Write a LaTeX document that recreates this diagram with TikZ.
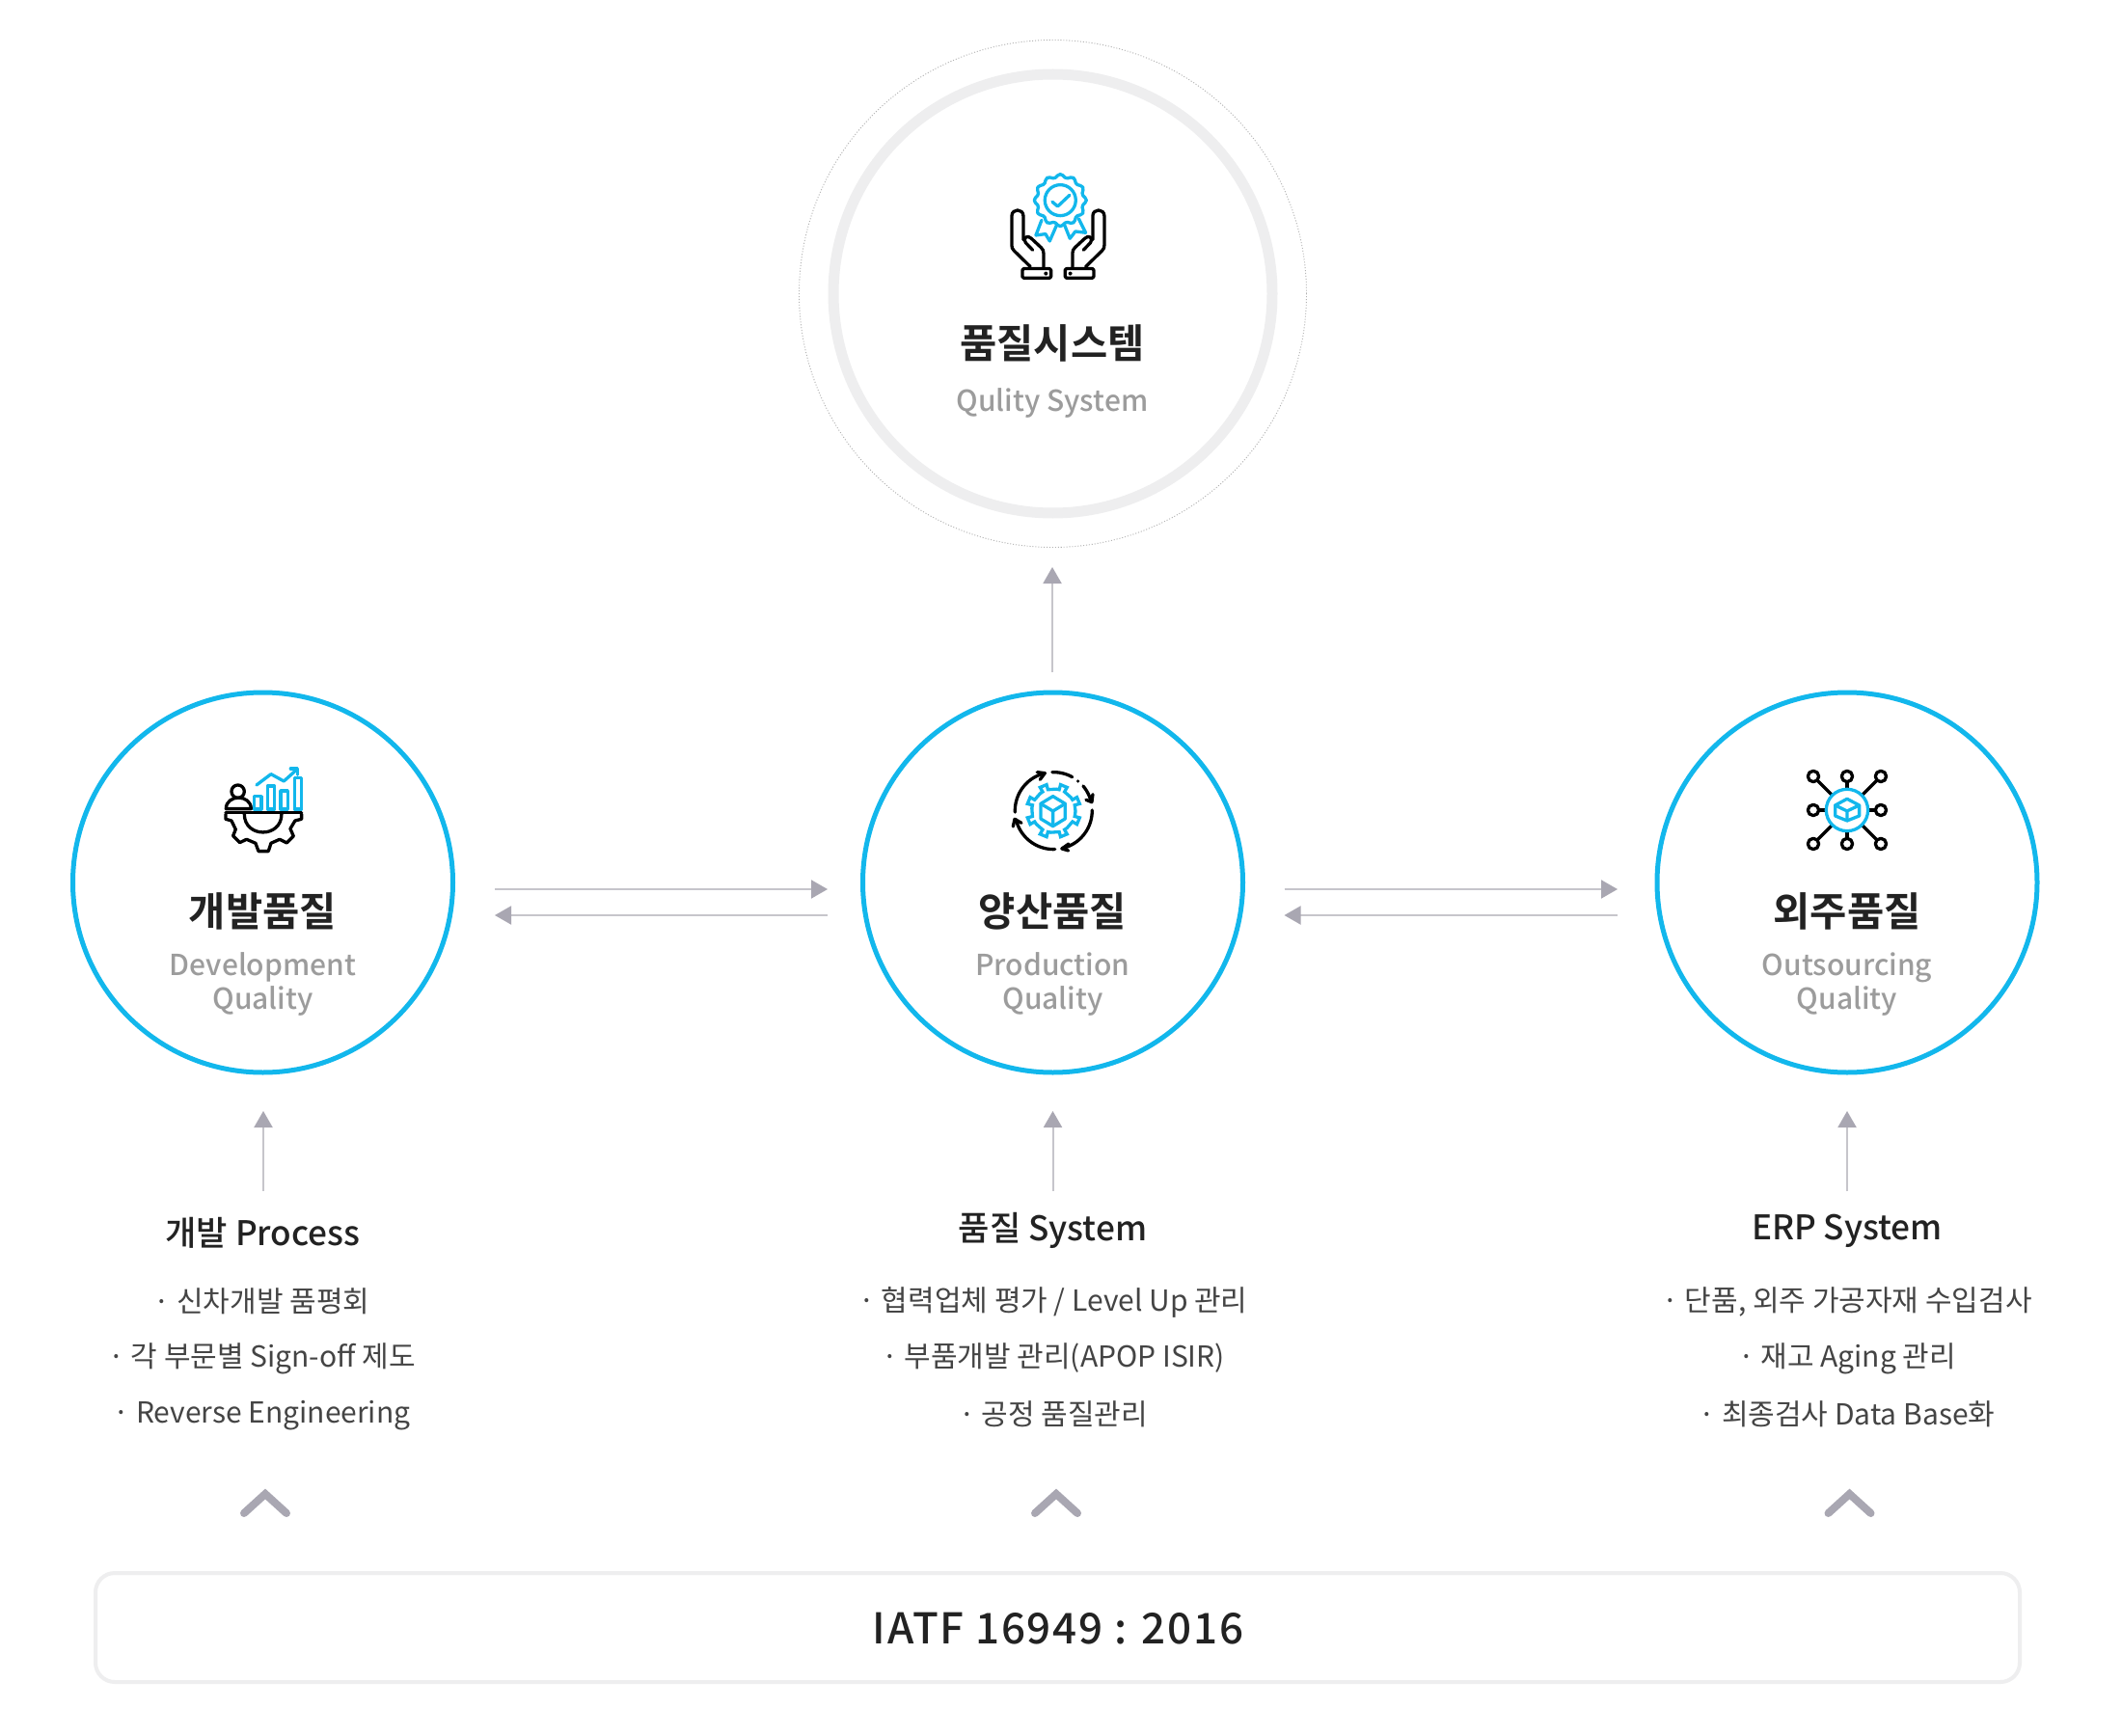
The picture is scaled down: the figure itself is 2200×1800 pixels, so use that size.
\documentclass[tikz,border=0pt]{standalone}
\usepackage{fontspec}
\usetikzlibrary{arrows.meta}
\setmainfont{Noto Sans CJK KR}
\newfontfamily\krbold{Noto Sans CJK KR Bold}
\newfontfamily\krmed{Noto Sans CJK KR Medium}
\newfontfamily\krspaced[LetterSpace=4]{Noto Sans CJK KR Medium}
\definecolor{sky}{HTML}{12B7EC}
\definecolor{ringg}{HTML}{EEEEEF}
\definecolor{linkg}{HTML}{C6C5CB}
\definecolor{headg}{HTML}{A9A7B2}
\definecolor{subg}{HTML}{9C9C9C}
\definecolor{titlek}{HTML}{222222}
\definecolor{listk}{HTML}{444444}
\tikzset{
  bigcirc/.style={circle,draw=sky,line width=5*0.03cm,minimum size=394*0.03cm,inner sep=0pt},
  ttl/.style={text=titlek,font=\krbold\fontsize{35.5pt}{40pt}\selectfont,inner sep=0pt},
  sbt/.style={text=subg,font=\krmed\fontsize{25.6pt}{29.6pt}\selectfont,align=center,inner sep=0pt},
  head/.style={text=titlek,font=\krmed\fontsize{30pt}{34pt}\selectfont,inner sep=0pt},
  lst/.style={text=listk,font=\fontsize{25.6pt}{30pt}\selectfont,inner sep=0pt},
  conn/.style={draw=linkg,line width=2*0.03cm,-{Triangle[length=17*0.03cm,width=19*0.03cm,color=headg]}},
  chev/.style={draw=headg,line width=8*0.03cm,line cap=round,line join=miter},
  ikk/.style={draw=black,line width=3.3*0.03cm,line cap=round,line join=round},
  ikb/.style={draw=sky,line width=3.3*0.03cm,line cap=round,line join=round},
  zoomed/.style={x=0.01cm,y=-0.01cm}
}
\begin{document}
\begin{tikzpicture}[x=0.03cm,y=-0.03cm]
\useasboundingbox[fill=white] (0,0) rectangle (2200,1800);
% top circle
\node[circle,draw=black!30,dash pattern=on 0.9pt off 1.6pt,line width=0.9*0.03cm,minimum size=526*0.03cm,inner sep=0pt] (outer) at (1091.5,304.5) {};
\node[circle,draw=ringg,line width=11*0.03cm,minimum size=455*0.03cm,inner sep=0pt] (ring) at (1091.5,304.5) {};
\node[ttl] (t0) at (1091,356) {품질시스템};
\node[sbt] (s0) at (1091,418) {Qulity System};
% three circles
\node[bigcirc] (c1) at (272.5,915) {};
\node[bigcirc] (c2) at (1091.5,915) {};
\node[bigcirc] (c3) at (1915,915) {};
\node[ttl] (t1) at (272.5,945) {개발품질};
\node[ttl] (t2) at (1091.5,945) {양산품질};
\node[ttl] (t3) at (1915,945) {외주품질};
\node[sbt] (s1) at (272.5,1020.5) {Development\\[0.2pt]Quality};
\node[sbt] (s2) at (1091.5,1020.5) {Production\\[0.2pt]Quality};
\node[sbt] (s3) at (1915,1020.5) {Outsourcing\\[0.2pt]Quality};
% connectors
\coordinate (a1s) at (513,922); \coordinate (a1e) at (858,922);
\coordinate (a2s) at (858,949); \coordinate (a2e) at (513,949);
\coordinate (a3s) at (1331.5,922); \coordinate (a3e) at (1677,922);
\coordinate (a4s) at (1677,949); \coordinate (a4e) at (1331.5,949);
\coordinate (u0s) at (1091,697); \coordinate (u0e) at (1091,588);
\coordinate (u1s) at (273,1235); \coordinate (u1e) at (273,1152);
\coordinate (u2s) at (1091.5,1235); \coordinate (u2e) at (1091.5,1152);
\coordinate (u3s) at (1915,1235); \coordinate (u3e) at (1915,1152);
\foreach \p in {a1,a2,a3,a4,u0,u1,u2,u3}{\draw[conn] (\p s) -- (\p e);}
% section heads
\node[head] (h1) at (272.5,1278) {개발 Process};
\node[head] (h2) at (1091.5,1276) {품질 System};
\node[head] (h3) at (1915,1276.5) {ERP System};
% lists
\node[lst] (l11) at (271.5,1349) {· 신차개발 품평회};
\node[lst] (l12) at (271.5,1409) {· 각 부문별 Sign-off 제도};
\node[lst] (l13) at (271.5,1468) {· Reverse Engineering};
\node[lst] (l21) at (1092,1350) {· 협력업체 평가 / Level Up 관리};
\node[lst] (l22) at (1092,1408.5) {· 부품개발 관리(APOP ISIR)};
\node[lst] (l23) at (1092,1466) {· 공정 품질관리};
\node[lst] (l31) at (1915,1350) {· 단품, 외주 가공자재 수입검사};
\node[lst] (l32) at (1915,1408.5) {· 재고 Aging 관리};
\node[lst] (l33) at (1915,1466) {· 최종검사 Data Base화};
% chevrons
\foreach \cx in {275,1095,1917.5}{
  \draw[chev] (\cx-22,1569) -- (\cx,1549) -- (\cx+22,1569);
}
% standard box
\node[draw=ringg,line width=4*0.03cm,rounded corners=20*0.03cm,minimum width=1995*0.03cm,minimum height=113*0.03cm,inner sep=0pt] (std) at (1096.5,1687.5) {};
\node[text=titlek,font=\krspaced\fontsize{37.5pt}{42pt}\selectfont,inner sep=0pt] (stdt) at (1097,1689) {IATF 16949 : 2016};
% icon: hands and rosette
\begin{scope}[shift={(980,140)},zoomed]
  \draw[ikb] plot[smooth cycle,domain=0:354,samples=60,variable=\t] ({358+(76+5*cos(12*\t))*cos(\t)},{203+(76+5*cos(12*\t))*sin(\t)});
  \draw[ikb] (358,203) circle[radius=0.48cm];
  \draw[ikb] (333,208) -- (350,222) -- (387,187);
  \draw[ikb] (300,265) -- (282,312) -- (312,308) -- (325,330) -- (346,282);
  \draw[ikb] (372,282) -- (388,322) -- (405,300) -- (437,304) -- (415,260);
  \foreach \s in {1,-1}{
    \begin{scope}[xshift={(\s==1?0:702)*0.01cm},xscale=\s]
      \draw[ikk] (265,410) -- (214,360) .. controls (208,354) and (207,350) .. (207,343) -- (207,252) .. controls (207,228) and (243,228) .. (243,252) -- (243,326);
      \draw[ikk] (272,358) -- (250,335) .. controls (240,322) and (255,308) .. (268,322) -- (298,350) .. controls (304,356) and (306,360) .. (306,368) -- (306,410);
      \draw[ikk,fill=white,rounded corners=1.2pt] (240,416) rectangle (329,445);
      \fill (313,431) circle[radius=0.06cm];
    \end{scope}
  }
\end{scope}
% icon: development
\begin{scope}[shift={(200,770)},zoomed]
  \draw[ikk] (140,152) circle[radius=0.2cm];
  \draw[ikk] (103,206) .. controls (103,160) and (181,160) .. (181,206) -- cycle;
  \draw[ikb] (190,167) rectangle (213,207);
  \draw[ikb] (232,135) rectangle (254,207);
  \draw[ikb] (273,150) rectangle (295,207);
  \draw[ikb] (316,110) rectangle (338,207);
  \draw[ikb] (198,132) -- (243,98) -- (283,120) -- (322,85);
  \draw[ikb] (304,81) -- (325,81) -- (325,100);
  \draw[ikk] (102,218) -- (338,218);
  \draw[ikk] (102,222) -- (102,238) -- (120,243) -- (133,270) -- (125,290) -- (146,311) -- (167,301) -- (195,313) -- (204,338) -- (235,338) -- (243,313) -- (270,301) -- (292,312) -- (313,291) -- (303,268) -- (318,243) -- (338,238) -- (338,222);
  \draw[ikk] (160,222) .. controls (160,298) and (276,298) .. (276,222);
\end{scope}
% icon: production gear
\begin{scope}[shift={(1020,780)},zoomed]
  \draw[ikk] plot[domain=178:257,samples=24,variable=\t] ({217+120*cos(\t)},{182+120*sin(\t)});
  \draw[ikk] (166,62) -- (190,65) -- (175,85);
  \draw[ikk] plot[domain=268:299,samples=12,variable=\t] ({217+120*cos(\t)},{182+120*sin(\t)});
  \fill (293,90) circle[radius=0.05cm];
  \draw[ikk] plot[domain=320:347,samples=12,variable=\t] ({217+120*cos(\t)},{182+120*sin(\t)});
  \draw[ikk] (318,148) -- (336,155) -- (339,131);
  \draw[ikk] plot[domain=359:437.6,samples=24,variable=\t] ({217+120*cos(\t)},{182+120*sin(\t)});
  \draw[ikk] (264,285) -- (243,300) -- (263,306);
  \draw[ikk] plot[domain=448:527,samples=24,variable=\t] ({217+120*cos(\t)},{182+120*sin(\t)});
  \draw[ikk] (91,231) -- (96,208) -- (117,220);
  \draw[ikb,line join=miter] (217+68,182)
    \foreach \a in {0,45,...,315}{
      -- ({217+68*cos(\a+7)},{182+68*sin(\a+7)})
      -- ({217+68*cos(\a+15)},{182+68*sin(\a+15)})
      -- ({217+84*cos(\a+15)},{182+84*sin(\a+15)})
      -- ({217+84*cos(\a+30)},{182+84*sin(\a+30)})
      -- ({217+68*cos(\a+30)},{182+68*sin(\a+30)})
    } -- cycle;
  \draw[ikb] (215,137) -- (253,160) -- (253,207) -- (215,230) -- (177,207) -- (177,160) -- cycle;
  \draw[ikb] (177,160) -- (215,183) -- (253,160) (215,183) -- (215,230);
\end{scope}
% icon: network
\begin{scope}[shift={(1840,780)},zoomed]
  \foreach \px/\py in {120/75,225/75,330/75,120/180,330/180,120/285,225/285,330/285}{
    \draw[ikk] (\px,\py) -- (225,180);
    \draw[ikk,fill=white] (\px,\py) circle[radius=0.17cm];
  }
  \draw[ikb,fill=white] (225,180) circle[radius=0.65cm];
  \draw[ikb] (225,145) -- (263,165) -- (263,198) -- (225,213) -- (188,198) -- (188,165) -- cycle;
  \draw[ikb] (188,165) -- (225,183) -- (263,165) (225,183) -- (225,213);
\end{scope}
\end{tikzpicture}
\end{document}
